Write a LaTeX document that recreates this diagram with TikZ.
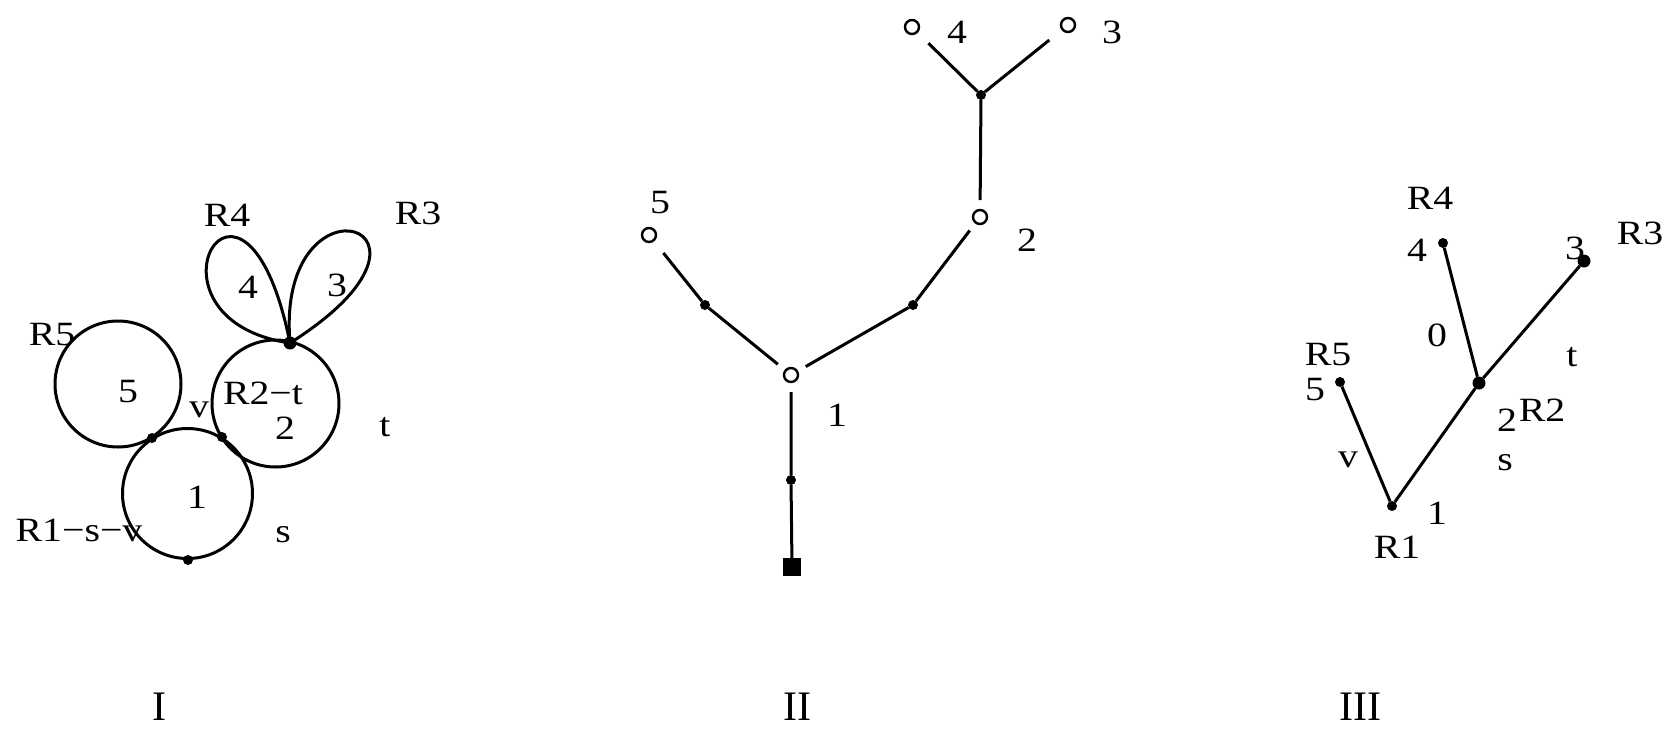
\documentclass[tikz,border=0pt]{standalone}
\usepackage{fontspec}
\setmainfont{Liberation Serif}[FakeStretch=1.17]
\newfontfamily\capfont{Liberation Serif}
\begin{document}
\begin{tikzpicture}[x=1pt,y=-1pt,
  ln/.style={line width=3pt},
  dot/.style={circle,fill=black,inner sep=0pt,minimum size=10pt,outer sep=0pt},
  bigdot/.style={circle,fill=black,inner sep=0pt,minimum size=13pt,outer sep=0pt},
  open/.style={circle,draw=black,line width=2.4pt,fill=white,inner sep=0pt,minimum size=14pt,outer sep=10pt},
  sqr/.style={rectangle,fill=black,inner sep=0pt,minimum size=18pt,outer sep=0pt},
  lbl/.style={inner sep=0pt,font=\fontsize{34}{34}\selectfont},
  num/.style={inner sep=0pt,font=\capfont\fontsize{42}{42}\selectfont}]
\useasboundingbox (0,0) rectangle (1676,731);
\fill[white] (0,0) rectangle (1676,731);

% ---------------- Figure I ----------------
\draw[ln] (118,384) circle [radius=63pt];
\draw[ln] (187.5,493.5) circle [radius=65pt];
\draw[ln] (275.5,403.5) circle [radius=63.5pt];
\coordinate (P) at (290,343);
\draw[ln] (P) .. controls (127,319) and (244,116) .. (P);
\draw[ln] (P) .. controls (275,165) and (477,225) .. (P);
\node[bigdot] (pI) at (P) {};
\node[dot] (a51) at (152,438) {};
\node[dot] (a12) at (222,437) {};
\node[dot] (b1) at (188,560) {};

\node[lbl] (tR4) at (227,215) {R4};
\node[lbl] (tR3) at (418,213) {R3};
\node[lbl] (tR5) at (52,335) {R5};
\node[lbl] (t5) at (128,392) {5};
\node[lbl] (tv) at (199,410) {v};
\node[lbl] (tR2t) at (263,393) {R2−t};
\node[lbl] (t2) at (285,428) {2};
\node[lbl] (tt) at (385,427) {t};
\node[lbl] (t1) at (197,497) {1};
\node[lbl] (ts) at (283,535) {s};
\node[lbl] (t4) at (248,287) {4};
\node[lbl] (t3) at (337,285) {3};
\node[lbl] (tR1) at (79,530) {R1−s−v};

% ---------------- Figure II ----------------
\node[open] (n4) at (912,27) {};
\node[open] (n3) at (1068,25) {};
\node[dot] (j) at (981,95) {};
\node[open] (n2) at (980,217) {};
\node[dot] (m2) at (913,305) {};
\node[open] (n1) at (791,375) {};
\node[dot] (m5) at (705,305) {};
\node[open] (n5) at (649,235) {};
\node[dot] (mb) at (791,480) {};
\node[sqr] (sq) at (792,567) {};
\draw[ln,shorten >=6pt] (j) -- (n4);
\draw[ln,shorten >=7pt] (j) -- (n3);
\draw[ln] (j) -- (n2);
\draw[ln] (n2) -- (m2) -- (n1);
\draw[ln,shorten >=6pt] (n1) -- (m5) -- (n5);
\draw[ln] (n1) -- (mb) -- (sq);

\node[lbl] (u4) at (957,32) {4};
\node[lbl] (u3) at (1112,32) {3};
\node[lbl] (u5) at (660,203) {5};
\node[lbl] (u2) at (1027,240) {2};
\node[lbl] (u1) at (837,415) {1};

% ---------------- Figure III ----------------
\node[dot] (R1) at (1392,506) {};
\node[dot] (N5) at (1340,382) {};
\node[bigdot] (R2) at (1479,383) {};
\node[dot] (N4) at (1443,243) {};
\node[bigdot] (N3) at (1584,261) {};
\draw[ln] (R1) -- (N5);
\draw[ln] (R1) -- (R2);
\draw[ln] (R2) -- (N4);
\draw[ln] (R2) -- (N3);

\node[lbl] (wR4) at (1430,198) {R4};
\node[lbl] (w4) at (1417,250) {4};
\node[lbl] (w3) at (1575,248) {3};
\node[lbl] (wR3) at (1640,233) {R3};
\node[lbl] (w0) at (1437,335) {0};
\node[lbl] (wt) at (1572,357) {t};
\node[lbl] (wR5) at (1328,355) {R5};
\node[lbl] (w5) at (1315,390) {5};
\node[lbl] (w2) at (1507,420) {2};
\node[lbl] (wR2) at (1542,410) {R2};
\node[lbl] (ws) at (1505,463) {s};
\node[lbl] (wv) at (1348,460) {v};
\node[lbl] (w1) at (1437,513) {1};
\node[lbl] (wR1) at (1397,547) {R1};

% ---------------- captions ----------------
\node[num] (cI) at (159,707) {I};
\node[num] (cII) at (797,707) {II};
\node[num] (cIII) at (1360,707) {III};
\end{tikzpicture}
\end{document}
